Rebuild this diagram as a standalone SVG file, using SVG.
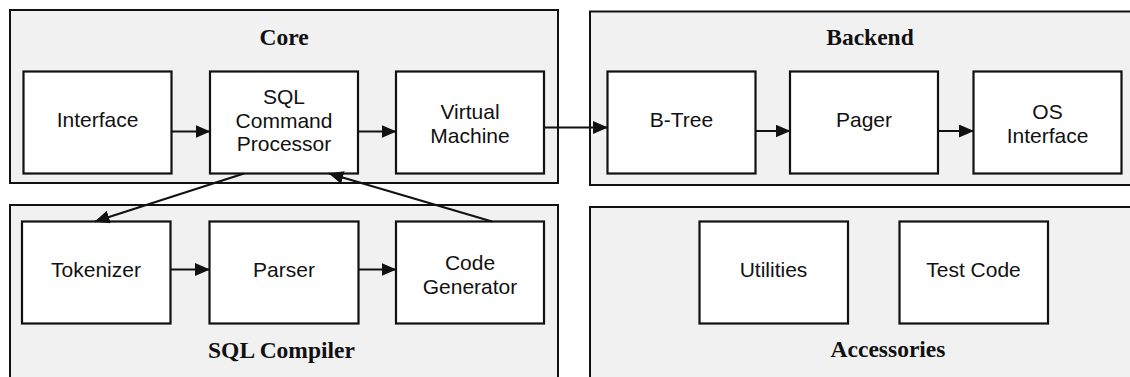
<svg xmlns="http://www.w3.org/2000/svg" width="1130" height="377" viewBox="0 0 1130 377">
  <defs>
    <style>
      .group { fill: #f1f1f1; stroke: #111; stroke-width: 2; }
      .node rect { fill: #fff; stroke: #111; stroke-width: 2.2; }
      .node text { font-family: "Liberation Sans", Arial, sans-serif; font-size: 21px; fill: #111; text-anchor: middle; }
      .title { font-family: "Liberation Serif", "Times New Roman", serif; font-size: 23.5px; font-weight: bold; fill: #111; text-anchor: middle; }
      .edge { stroke: #111; stroke-width: 2.2; fill: none; marker-end: url(#arrow); }
    </style>
    <marker id="arrow" markerUnits="userSpaceOnUse" markerWidth="16" markerHeight="14" refX="14.5" refY="6.5" orient="auto">
      <path d="M0,0 L15,6.5 L0,13 z" fill="#111"/>
    </marker>
  </defs>

  <!-- subsystem groups -->
  <g id="group-core">
    <rect class="group" x="10" y="10" width="548" height="173"/>
    <text class="title" x="284" y="45">Core</text>
  </g>
  <g id="group-backend">
    <rect class="group" x="590" y="11.5" width="560" height="173.5"/>
    <text class="title" x="870" y="45">Backend</text>
  </g>
  <g id="group-sql-compiler">
    <rect class="group" x="10" y="205" width="548" height="200"/>
    <text class="title" x="281.5" y="358">SQL Compiler</text>
  </g>
  <g id="group-accessories">
    <rect class="group" x="590" y="207" width="560" height="200"/>
    <text class="title" x="888" y="357">Accessories</text>
  </g>

  <!-- modules -->
  <g id="interface" class="node">
    <rect x="23.5" y="71.5" width="148" height="102"/>
    <text x="97.5" y="127">Interface</text>
  </g>
  <g id="sql-command-processor" class="node">
    <rect x="210" y="71.5" width="148" height="102"/>
    <text x="284" y="104">SQL</text>
    <text x="284" y="127.5">Command</text>
    <text x="284" y="151">Processor</text>
  </g>
  <g id="virtual-machine" class="node">
    <rect x="396" y="71.5" width="148" height="102"/>
    <text x="470" y="118.5">Virtual</text>
    <text x="470" y="142.5">Machine</text>
  </g>
  <g id="b-tree" class="node">
    <rect x="607.5" y="71.5" width="148" height="102"/>
    <text x="681.5" y="127">B-Tree</text>
  </g>
  <g id="pager" class="node">
    <rect x="790" y="71.5" width="148" height="102"/>
    <text x="864" y="127">Pager</text>
  </g>
  <g id="os-interface" class="node">
    <rect x="973.5" y="71.5" width="148" height="102"/>
    <text x="1047.5" y="118.5">OS</text>
    <text x="1047.5" y="142.5">Interface</text>
  </g>
  <g id="tokenizer" class="node">
    <rect x="22" y="221.5" width="148.5" height="102"/>
    <text x="96" y="277">Tokenizer</text>
  </g>
  <g id="parser" class="node">
    <rect x="209.5" y="221.5" width="149" height="102"/>
    <text x="284" y="277">Parser</text>
  </g>
  <g id="code-generator" class="node">
    <rect x="396" y="221.5" width="148" height="102"/>
    <text x="470" y="269.5">Code</text>
    <text x="470" y="293.5">Generator</text>
  </g>
  <g id="utilities" class="node">
    <rect x="699.5" y="221.5" width="148.5" height="102"/>
    <text x="773.5" y="277">Utilities</text>
  </g>
  <g id="test-code" class="node">
    <rect x="899.5" y="221.5" width="148.5" height="102"/>
    <text x="973.5" y="277">Test Code</text>
  </g>

  <!-- data flow -->
  <g id="connectors">
    <line class="edge" x1="171.5" y1="131.5" x2="210" y2="131.5"/>
    <line class="edge" x1="358" y1="131.5" x2="396" y2="131.5"/>
    <line class="edge" x1="544" y1="127.5" x2="607.5" y2="127.5"/>
    <line class="edge" x1="755.5" y1="131" x2="790" y2="131"/>
    <line class="edge" x1="938" y1="131" x2="973.5" y2="131"/>
    <line class="edge" x1="170.5" y1="269.5" x2="209.5" y2="269.5"/>
    <line class="edge" x1="358.5" y1="269.5" x2="396" y2="269.5"/>
    <line class="edge" x1="244" y1="173.5" x2="95" y2="221.5"/>
    <line class="edge" x1="492" y1="221.5" x2="329" y2="173.5"/>
  </g>
</svg>
